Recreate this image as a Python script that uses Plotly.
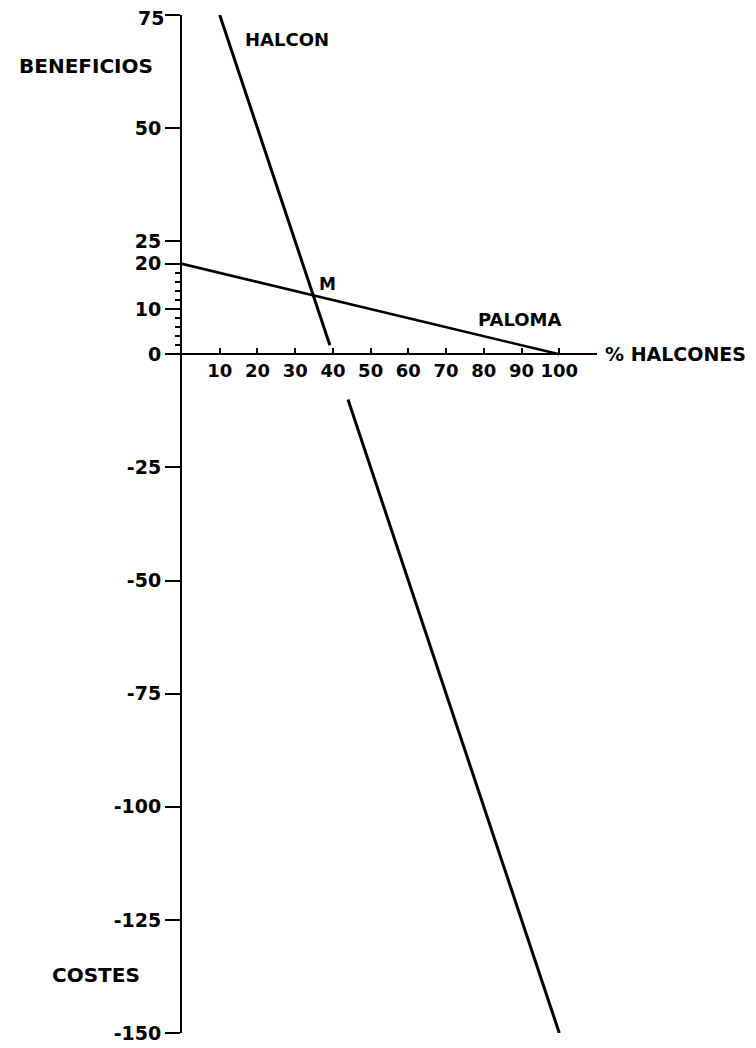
import plotly.graph_objects as go

# Data
halcon_upper_x = [10, 39.2]
halcon_upper_y = [75, 2]
halcon_lower_x = [44, 100]
halcon_lower_y = [-10, -150]
paloma_x = [0, 100]
paloma_y = [20, 0]

x_tickvals = [10, 20, 30, 40, 50, 60, 70, 80, 90, 100]
x_ticktext = ["10", "20", "30", "40", "50", "60", "70", "80", "90", "100"]
y_tickvals = [75, 50, 25, 20, 10, 0, -25, -50, -75, -100, -125, -150]
y_ticktext = ["", "50", "25", "20", "10", "0", "-25", "-50", "-75", "-100", "-125", "-150"]
y_top_label = "75"
y_minor = [2, 4, 6, 8, 12, 14, 16, 18]

XMIN, XMAX = 0, 110
YMIN, YMAX = -150, 75

FONT = "DejaVu Sans"

fig = go.Figure()
line_style = dict(color="black", width=3)
fig.add_trace(go.Scatter(x=halcon_upper_x, y=halcon_upper_y, mode="lines",
                         line=line_style, showlegend=False, hoverinfo="skip"))
fig.add_trace(go.Scatter(x=halcon_lower_x, y=halcon_lower_y, mode="lines",
                         line=line_style, showlegend=False, hoverinfo="skip"))
fig.add_trace(go.Scatter(x=paloma_x, y=paloma_y, mode="lines",
                         line=dict(color="black", width=2.6), showlegend=False, hoverinfo="skip"))

x_pos = (0 - YMIN) / (YMAX - YMIN)

fig.update_layout(
    width=748, height=1040, autosize=False,
    margin=dict(l=174, r=159, t=7, b=15),
    plot_bgcolor="white", paper_bgcolor="white",
    xaxis=dict(
        range=[XMIN, XMAX], anchor="free", position=x_pos,
        showline=True, linecolor="black", linewidth=2,
        showgrid=False, zeroline=False,
        tickmode="array", tickvals=x_tickvals, ticktext=x_ticktext,
        ticks="inside", ticklen=5, tickwidth=2, tickcolor="black",
        tickfont=dict(family=FONT, size=18, color="black", weight="bold"),
        automargin=False,
    ),
    yaxis=dict(
        range=[YMIN, YMAX],
        showline=True, linecolor="black", linewidth=2,
        showgrid=False, zeroline=False,
        tickmode="array", tickvals=y_tickvals, ticktext=y_ticktext,
        ticks="outside", ticklen=15, tickwidth=2, tickcolor="black",
        tickfont=dict(family=FONT, size=19, color="black", weight="bold"),
        minor=dict(tickmode="array", tickvals=y_minor, ticks="outside",
                   ticklen=5, tickwidth=1.5, tickcolor="black", showgrid=False),
        automargin=False,
    ),
)

def label(text, **kw):
    base = dict(text=text, showarrow=False,
                font=dict(family=FONT, size=18, color="black", weight="bold"))
    base.update(kw)
    fig.add_annotation(**base)

# top y tick label (kept inside the page)
label(y_top_label, x=0, y=YMAX, xref="paper", yref="y", xanchor="right", yanchor="middle",
      xshift=-17, yshift=-3, borderpad=0,
      font=dict(family=FONT, size=19, color="black", weight="bold"))

label("HALCON", x=16.2, y=69.5, xref="x", yref="y", xanchor="left", yanchor="middle")
label("PALOMA", x=89.7, y=7.6, xref="x", yref="y", xanchor="center", yanchor="middle")
label("M", x=35.7, y=15.5, xref="x", yref="y", xanchor="left", yanchor="middle",
      font=dict(family=FONT, size=17, color="black", weight="bold"))
label("% HALCONES", x=1, y=0, xref="paper", yref="y", xanchor="left", yanchor="middle",
      xshift=6, font=dict(family=FONT, size=19, color="black", weight="bold"))
label("BENEFICIOS", x=0, y=63.8, xref="paper", yref="y", xanchor="right", yanchor="middle",
      xshift=-27, font=dict(family=FONT, size=20, color="black", weight="bold"))
label("COSTES", x=0, y=-137.1, xref="paper", yref="y", xanchor="right", yanchor="middle",
      xshift=-40, font=dict(family=FONT, size=20, color="black", weight="bold"))

fig.write_html("out.html")
